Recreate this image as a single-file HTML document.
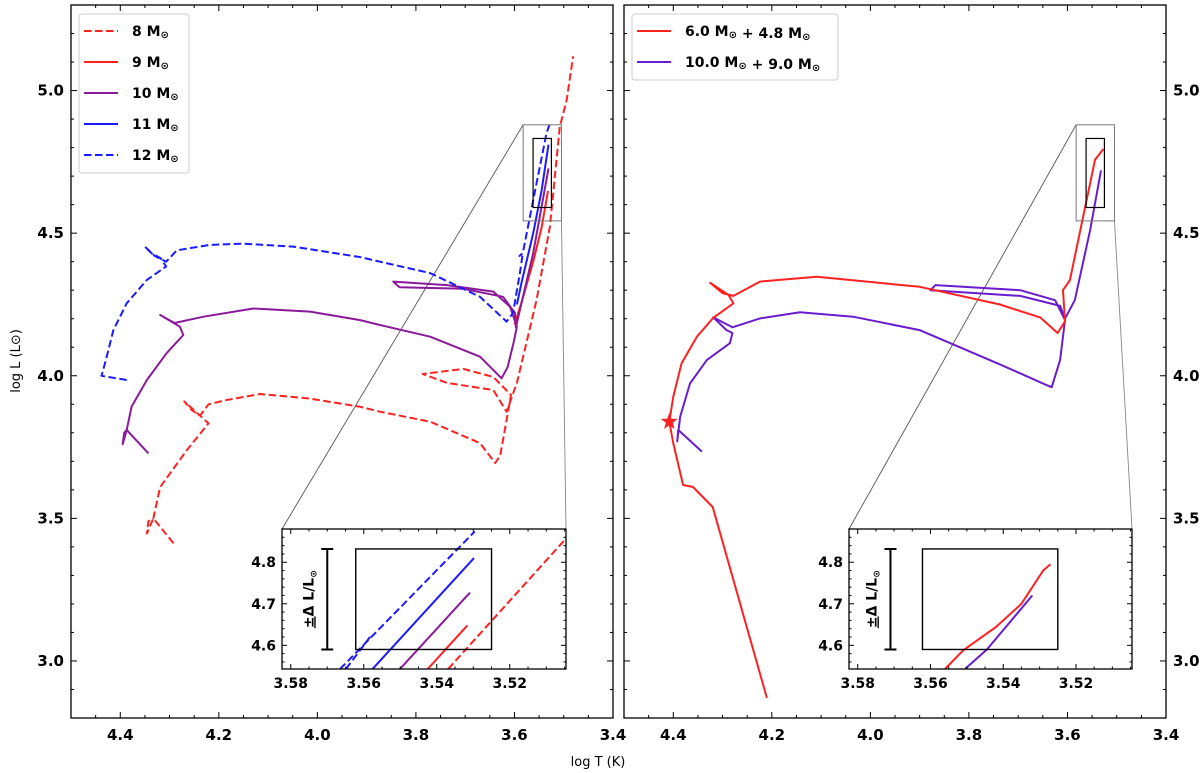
<!DOCTYPE html>
<html><head><meta charset="utf-8">
<style>
html,body{margin:0;padding:0;background:#fff;}
svg{display:block;font-family:"DejaVu Sans","Liberation Sans",sans-serif;}
</style></head>
<body>
<svg id="fig" width="1200" height="773" viewBox="0 0 1200 773" xmlns="http://www.w3.org/2000/svg"></svg>
<script>
// ---------- data (logT, logL) ----------
const m8T=[4.292,4.333,4.346,4.343,4.333,4.319,4.265,4.221,4.238,4.27,4.255,4.238,4.221,4.184,4.116,4.015,3.913,3.873,3.771,3.670,3.639,3.629,3.616,3.607,3.643,3.704,3.786,3.737,3.643,3.616,3.595,3.555,3.528,3.508,3.494,3.481];
const m8L=[3.413,3.50,3.447,3.49,3.50,3.61,3.739,3.833,3.86,3.91,3.88,3.86,3.90,3.915,3.936,3.92,3.891,3.874,3.839,3.764,3.694,3.72,3.845,3.933,3.996,4.024,4.006,3.975,3.95,3.874,3.975,4.266,4.523,4.873,4.967,5.12];
const m9T=[3.60,3.585,3.562,3.545,3.532];
const m9L=[4.18,4.26,4.40,4.52,4.648];
const m10T=[4.343,4.387,4.392,4.395,4.387,4.377,4.346,4.306,4.272,4.279,4.319,4.29,4.231,4.13,4.015,3.913,3.873,3.771,3.670,3.626,3.614,3.602,3.595,3.609,3.643,3.737,3.846,3.833,3.704,3.623,3.599,3.597,3.589,3.562,3.531];
const m10L=[3.728,3.81,3.80,3.76,3.81,3.892,3.985,4.079,4.143,4.172,4.213,4.185,4.207,4.236,4.225,4.195,4.178,4.137,4.067,3.991,4.03,4.115,4.172,4.242,4.295,4.318,4.330,4.31,4.305,4.277,4.22,4.17,4.231,4.43,4.727];
const m11T=[3.595,3.585,3.562,3.545,3.531];
const m11L=[4.25,4.33,4.50,4.65,4.81];
const m12T=[4.387,4.438,4.43,4.414,4.387,4.346,4.307,4.318,4.337,4.35,4.33,4.307,4.285,4.218,4.151,4.049,3.913,3.873,3.771,3.670,3.616,3.603,3.589,3.583,3.59,3.583,3.562,3.535,3.529];
const m12L=[3.985,4.0,4.05,4.16,4.254,4.336,4.383,4.412,4.43,4.453,4.42,4.40,4.44,4.459,4.463,4.453,4.416,4.40,4.36,4.277,4.19,4.22,4.36,4.43,4.42,4.43,4.616,4.85,4.88];
const b6T=[4.21,4.32,4.36,4.38,4.40,4.408,4.40,4.383,4.352,4.319,4.278,4.288,4.325,4.30,4.278,4.224,4.109,3.90,3.737,3.655,3.62,3.605,3.609,3.595,3.574,3.544,3.527];
const b6L=[2.87,3.54,3.61,3.617,3.763,3.839,3.927,4.044,4.137,4.203,4.254,4.283,4.326,4.29,4.28,4.330,4.347,4.312,4.25,4.204,4.15,4.19,4.30,4.335,4.51,4.757,4.795];
const b10T=[4.342,4.39,4.392,4.386,4.366,4.332,4.285,4.28,4.292,4.319,4.28,4.224,4.143,4.035,3.90,3.737,3.646,3.632,3.615,3.605,3.625,3.696,3.868,3.878,3.696,3.615,3.605,3.585,3.554,3.532];
const b10L=[3.734,3.81,3.77,3.857,3.973,4.055,4.114,4.15,4.16,4.205,4.17,4.201,4.223,4.207,4.16,4.04,3.97,3.96,4.055,4.195,4.265,4.30,4.318,4.30,4.28,4.245,4.20,4.265,4.51,4.72];
const starT=[4.408], starL=[3.839];
// inset segments
const inL12aT=[3.5665,3.5296], inL12aL=[4.543,4.874];
const inL12bT=[3.5649,3.5583], inL12bL=[4.543,4.62];
const inL11T=[3.5576,3.5298], inL11L=[4.543,4.81];
const inL10T=[3.5501,3.5309], inL10L=[4.543,4.727];
const inL9T=[3.5425,3.5316], inL9L=[4.543,4.648];
const inL8T=[3.5369,3.5049,3.500], inL8L=[4.543,4.854,4.89];
const inR6T=[3.556,3.551,3.542,3.535,3.529,3.527], inR6L=[4.543,4.588,4.644,4.70,4.78,4.795];
const inR10T=[3.5505,3.5445,3.532], inR10L=[4.543,4.59,4.72];
const xTicks=[4.4,4.2,4.0,3.8,3.6,3.4];
const yTicks=[3.0,3.5,4.0,4.5,5.0];
const inXTicks=[3.58,3.56,3.54,3.52];
const inYTicks=[4.6,4.7,4.8];
const boxT=[3.5622,3.525], boxL=[4.590,4.832];
const zoomT=[3.5824,3.5046], zoomL=[4.543,4.88];

// ---------- drawing ----------
const NS="http://www.w3.org/2000/svg";
const svg=document.getElementById('fig');
function mk(tag,attrs,parent){const e=document.createElementNS(NS,tag);for(const k in attrs)e.setAttribute(k,attrs[k]);(parent||svg).appendChild(e);return e;}
const RED="#ff2020", BLUE="#1a1aff", PURP="#8a1a9a", VIO="#6a1ccf";
const DASH="7.5,3.5";

function makeAxes(x0,x1,y0,y1,tmin,tmax,lmin,lmax){
  return {x0,x1,y0,y1,
    X:t=>x0+(tmin-t)/(tmin-tmax)*(x1-x0),
    Y:l=>y1-(l-lmin)/(lmax-lmin)*(y1-y0)};
}
function line(ax,T,L,color,dash,clip,name,parent){
  let d='';for(let i=0;i<T.length;i++)d+=(i?'L':'M')+ax.X(T[i]).toFixed(1)+','+ax.Y(L[i]).toFixed(1);
  const p=mk('path',{d:d,fill:'none',stroke:color,'stroke-width':2,'stroke-linejoin':'round','clip-path':'url(#'+clip+')'},parent);
  if(dash)p.setAttribute('stroke-dasharray',DASH);
  
  
  return p;
}
function clipRect(id,ax){const cp=mk('clipPath',{id:id});mk('rect',{x:ax.x0,y:ax.y0,width:ax.x1-ax.x0,height:ax.y1-ax.y0},cp);}
function ticks(ax,g,xs,xminorStep,xmin,xmax,ys,yminorStep,ymin,ymax,maj,mino){
  for(let v=Math.ceil(xmin/xminorStep-1e-6)*xminorStep;v<=xmax+1e-9;v+=xminorStep){
    const isMaj=xs.some(m=>Math.abs(m-v)<1e-6);const len=isMaj?maj:mino;const x=ax.X(v);
    mk('line',{x1:x,x2:x,y1:ax.y1,y2:ax.y1-len,stroke:'#000','stroke-width':1},g);
    mk('line',{x1:x,x2:x,y1:ax.y0,y2:ax.y0+len,stroke:'#000','stroke-width':1},g);
  }
  for(let v=Math.ceil(ymin/yminorStep-1e-6)*yminorStep;v<=ymax+1e-9;v+=yminorStep){
    const isMaj=ys.some(m=>Math.abs(m-v)<1e-6);const len=isMaj?maj:mino;const y=ax.Y(v);
    mk('line',{x1:ax.x0,x2:ax.x0+len,y1:y,y2:y,stroke:'#000','stroke-width':1},g);
    mk('line',{x1:ax.x1,x2:ax.x1-len,y1:y,y2:y,stroke:'#000','stroke-width':1},g);
  }
}
function frame(ax,name,w){const r=mk('rect',{x:ax.x0,y:ax.y0,width:ax.x1-ax.x0,height:ax.y1-ax.y0,fill:'none',stroke:'#000','stroke-width':w||1.3});}
function text(x,y,s,opt,parent){const t=mk('text',Object.assign({x:x,y:y,'font-size':14,'font-weight':'bold',fill:'#000'},opt||{}),parent);t.textContent=s;return t;}

const defs=mk('defs',{});

function panel(id,x0,x1,tracks,insetTracks,yLabelSide,insetX0,insetX1,errT){
  const ax=makeAxes(x0,x1,5,718,4.5,3.4,2.8,5.3);
  const g=mk('g',{});
  const cp=mk('clipPath',{id:id+'clip'},defs);mk('rect',{x:x0,y:5,width:x1-x0,height:713},cp);
  // zoom box + connectors
  const zx0=ax.X(zoomT[0]),zx1=ax.X(zoomT[1]),zy0=ax.Y(zoomL[1]),zy1=ax.Y(zoomL[0]);
  const iax=makeAxes(insetX0,insetX1,529,669,zoomT[0],zoomT[1],zoomL[0],zoomL[1]);
  mk('line',{x1:zx0,y1:zy0,x2:iax.x0,y2:iax.y0,stroke:'#555','stroke-width':0.9},g);
  mk('line',{x1:zx1,y1:zy1,x2:iax.x1,y2:iax.y0,stroke:'#888','stroke-width':0.9},g);
  tracks.forEach(tr=>line(ax,tr[0],tr[1],tr[2],tr[3],id+'clip',tr[4],g));
  const zr=mk('rect',{x:zx0,y:zy0,width:zx1-zx0,height:zy1-zy0,fill:'none',stroke:'#777','stroke-width':1},g);
  
  mk('rect',{x:ax.X(boxT[0]),y:ax.Y(boxL[1]),width:ax.X(boxT[1])-ax.X(boxT[0]),height:ax.Y(boxL[0])-ax.Y(boxL[1]),fill:'none',stroke:'#000','stroke-width':1.2},g);
  ticks(ax,g,xTicks,0.05,3.4,4.5,yTicks,0.1,2.8,5.3,6,3);
  frame(ax,id+'-frame');
  xTicks.forEach(v=>{const t=text(ax.X(v),740,v.toFixed(1),{'text-anchor':'middle','font-size':15},g);});
  yTicks.forEach(v=>{const t=yLabelSide==='left'?text(x0-7,ax.Y(v)+5,v.toFixed(1),{'text-anchor':'end','font-size':15},g):text(x1+7,ax.Y(v)+5,v.toFixed(1),{'text-anchor':'start','font-size':15},g);});
  // inset
  const ig=mk('g',{},g);
  mk('rect',{x:iax.x0,y:iax.y0,width:iax.x1-iax.x0,height:iax.y1-iax.y0,fill:'#fff'},ig);
  const icp=mk('clipPath',{id:id+'iclip'},defs);mk('rect',{x:iax.x0,y:iax.y0,width:iax.x1-iax.x0,height:iax.y1-iax.y0},icp);
  insetTracks.forEach(tr=>line(iax,tr[0],tr[1],tr[2],tr[3],id+'iclip',tr[4],ig));
  mk('rect',{x:iax.X(boxT[0]),y:iax.Y(boxL[1]),width:iax.X(boxT[1])-iax.X(boxT[0]),height:iax.Y(boxL[0])-iax.Y(boxL[1]),fill:'none',stroke:'#000','stroke-width':1.4},ig);
  const ex=iax.X(errT),ey0=iax.Y(boxL[1]),ey1=iax.Y(boxL[0]);
  const eb=mk('path',{d:`M${ex},${ey0}L${ex},${ey1}M${ex-6},${ey0}L${ex+6},${ey0}M${ex-6},${ey1}L${ex+6},${ey1}`,stroke:'#000','stroke-width':2,fill:'none'},ig);
  
  const lx=ex-14,ly=(ey0+ey1)/2;
  const el=mk('text',{x:0,y:0,'font-size':14,'font-weight':'bold','text-anchor':'middle',transform:`translate(${lx},${ly}) rotate(-90)`},ig);
  el.innerHTML='<tspan text-decoration="underline">±</tspan>Δ L/L<tspan font-size="9" dy="3">⊙</tspan>';
  
  ticks(iax,ig,inXTicks,0.005,3.505,3.58,inYTicks,0.02,4.56,4.88,5,2.5);
  frame(iax,id+'-inset-frame',1.3);
  inXTicks.forEach(v=>{const t=text(iax.X(v),iax.y1+19,v.toFixed(2),{'text-anchor':'middle','font-size':14},ig);});
  inYTicks.forEach(v=>{const t=text(iax.x0-6,iax.Y(v)+5,v.toFixed(1),{'text-anchor':'end','font-size':14},ig);});
  return {ax,g};
}

const L=panel('left',71,613,[
  [m8T,m8L,RED,true,'track-8msun'],
  [m9T,m9L,RED,false,'track-9msun'],
  [m10T,m10L,PURP,false,'track-10msun'],
  [m11T,m11L,BLUE,false,'track-11msun'],
  [m12T,m12L,BLUE,true,'track-12msun']],
  [[inL12aT,inL12aL,BLUE,true,'inset-track-12msun'],[inL12bT,inL12bL,BLUE,true,'inset-track-12msun-b'],
   [inL11T,inL11L,BLUE,false,'inset-track-11msun'],[inL10T,inL10L,PURP,false,'inset-track-10msun'],
   [inL9T,inL9L,RED,false,'inset-track-9msun'],[inL8T,inL8L,RED,true,'inset-track-8msun']],
  'left',282,566,3.570);
const R=panel('right',624,1166,[
  [b10T,b10L,VIO,false,'track-binary-10-9'],
  [b6T,b6L,RED,false,'track-binary-6-4.8']],
  [[inR10T,inR10L,VIO,false,'inset-track-binary-10-9'],[inR6T,inR6L,RED,false,'inset-track-binary-6-4.8']],
  'right',849,1132,3.571);
// star marker
starT.forEach((t,i)=>{
  const cx=R.ax.X(t),cy=R.ax.Y(starL[i]);let d='';
  for(let k=0;k<10;k++){const r=k%2?3.6:9;const a=-Math.PI/2+k*Math.PI/5;d+=(k?'L':'M')+(cx+r*Math.cos(a)).toFixed(1)+','+(cy+r*Math.sin(a)).toFixed(1);}
  const s=mk('path',{d:d+'Z',fill:RED},R.g);
  
  
});
// axis labels
const xl=text(598,766,'log T (K)',{'text-anchor':'middle','font-size':13,'font-weight':'normal'});

const yl=mk('text',{x:0,y:0,'font-size':13,'text-anchor':'middle',transform:'translate(20,361) rotate(-90)'});
yl.textContent='log L (L⊙)';


// legends
function legend(x,y,w,entries,name){
  const g=mk('g',{});
  mk('rect',{x:x,y:y,width:w,height:entries.length*31+4,rx:3,fill:'#fff',stroke:'#ccc','stroke-width':1},g);
  entries.forEach((e,i)=>{
    const yy=y+17+i*31;
    const eg=mk('g',{},g);
    const ln=mk('line',{x1:x+5,x2:x+39,y1:yy,y2:yy,stroke:e[1],'stroke-width':2},eg);
    if(e[2])ln.setAttribute('stroke-dasharray',DASH);
    const t=mk('text',{x:x+53,y:yy+5,'font-size':14,'font-weight':'bold'},eg);
    t.innerHTML=e[0];
  });
}
const sun='<tspan font-size="10" dy="2">⊙</tspan><tspan dy="-2"></tspan>';
legend(79,14,110,[['8 M'+sun,RED,true],['9 M'+sun,RED,false],['10 M'+sun,PURP,false],['11 M'+sun,BLUE,false],['12 M'+sun,BLUE,true]],'legend-left');
legend(632,14,206,[['6.0 M'+sun+' + 4.8 M'+sun,RED,false],['10.0 M'+sun+' + 9.0 M'+sun,VIO,false]],'legend-right');
</script>
</body></html>
